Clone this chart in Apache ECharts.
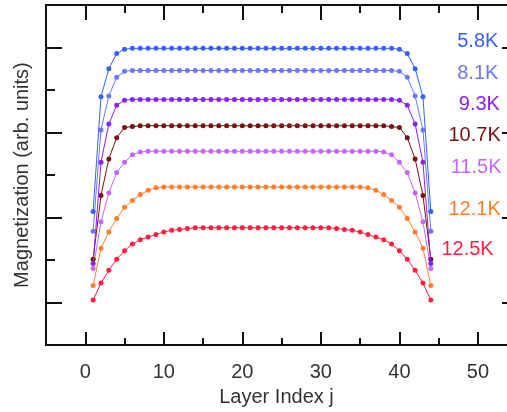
<!DOCTYPE html>
<html>
<head>
<meta charset="utf-8">
<script src="https://cdn.jsdelivr.net/npm/echarts@6/dist/echarts.min.js"></script>
<style>
  html, body { margin: 0; padding: 0; background: #fff; }
  #chart { width: 507px; height: 412px; }
</style>
</head>
<body>
<div id="chart"></div>
<script>
// Layer index j along the film
const layerIndex = [1, 2, 3, 4, 5, 6, 7, 8, 9, 10, 11, 12, 13, 14, 15, 16, 17, 18, 19, 20, 21, 22,
  23, 24, 25, 26, 27, 28, 29, 30, 31, 32, 33, 34, 35, 36, 37, 38, 39, 40, 41, 42, 43, 44];

const temperatures = ['5.8K', '8.1K', '9.3K', '10.7K', '11.5K', '12.1K', '12.5K'];

// Layer magnetization profiles (arb. units), one per temperature
const mag58 = [1.57, 2.92, 3.25, 3.43, 3.48,
  3.49, 3.49, 3.49, 3.49, 3.49, 3.49, 3.49, 3.49, 3.49, 3.49,
  3.49, 3.49, 3.49, 3.49, 3.49, 3.49, 3.49, 3.49, 3.49, 3.49,
  3.49, 3.49, 3.49, 3.49, 3.49, 3.49, 3.49, 3.49, 3.49, 3.49,
  3.49, 3.49, 3.49, 3.49,
  3.48, 3.43, 3.25, 2.92, 1.57];
const mag81 = [1.34, 2.53, 2.93, 3.15, 3.22,
  3.23, 3.23, 3.23, 3.23, 3.23, 3.23, 3.23, 3.23, 3.23, 3.23,
  3.23, 3.23, 3.23, 3.23, 3.23, 3.23, 3.23, 3.23, 3.23, 3.23,
  3.23, 3.23, 3.23, 3.23, 3.23, 3.23, 3.23, 3.23, 3.23, 3.23,
  3.23, 3.23, 3.23, 3.23,
  3.22, 3.15, 2.93, 2.53, 1.34];
const mag93 = [0.96, 2.15, 2.60, 2.82, 2.88,
  2.89, 2.89, 2.89, 2.89, 2.89, 2.89, 2.89, 2.89, 2.89, 2.89,
  2.89, 2.89, 2.89, 2.89, 2.89, 2.89, 2.89, 2.89, 2.89, 2.89,
  2.89, 2.89, 2.89, 2.89, 2.89, 2.89, 2.89, 2.89, 2.89, 2.89,
  2.89, 2.89, 2.89, 2.89,
  2.88, 2.82, 2.60, 2.15, 0.96];
const mag107 = [1.01, 1.76, 2.19, 2.44, 2.56, 2.57,
  2.58, 2.58, 2.58, 2.58, 2.58, 2.58, 2.58, 2.58, 2.58, 2.58,
  2.58, 2.58, 2.58, 2.58, 2.58, 2.58, 2.58, 2.58, 2.58, 2.58,
  2.58, 2.58, 2.58, 2.58, 2.58, 2.58, 2.58, 2.58, 2.58, 2.58,
  2.58, 2.58,
  2.57, 2.56, 2.44, 2.19, 1.76, 1.01];
const mag115 = [0.90, 1.45, 1.79, 2.03, 2.15, 2.24, 2.27,
  2.28, 2.28, 2.28, 2.28, 2.28, 2.28, 2.28, 2.28, 2.28, 2.28,
  2.28, 2.28, 2.28, 2.28, 2.28, 2.28, 2.28, 2.28, 2.28, 2.28,
  2.28, 2.28, 2.28, 2.28, 2.28, 2.28, 2.28, 2.28, 2.28, 2.28,
  2.27, 2.24, 2.15, 2.03, 1.79, 1.45, 0.90];
const mag121 = [0.70, 1.14, 1.33, 1.49, 1.62, 1.70, 1.77, 1.82, 1.85,
  1.86, 1.86, 1.86, 1.86, 1.86, 1.86, 1.86, 1.86, 1.86, 1.86,
  1.86, 1.86, 1.86, 1.86, 1.86, 1.86, 1.86, 1.86, 1.86, 1.86,
  1.86, 1.86, 1.86, 1.86, 1.86, 1.86,
  1.85, 1.82, 1.77, 1.70, 1.62, 1.49, 1.33, 1.14, 0.70];
const mag125 = [0.53, 0.73, 0.88, 1.01, 1.11, 1.19, 1.24, 1.27, 1.30, 1.33, 1.35, 1.36, 1.37,
  1.38, 1.38, 1.38, 1.38, 1.38, 1.38, 1.38, 1.38, 1.38, 1.38,
  1.38, 1.38, 1.38, 1.38, 1.38, 1.38, 1.38, 1.38,
  1.37, 1.36, 1.35, 1.33, 1.30, 1.27, 1.24, 1.19, 1.11, 1.01, 0.88, 0.73, 0.53];

const profiles = [mag58, mag81, mag93, mag107, mag115, mag121, mag125];

// Tick positions
const xMajorTicks = [0, 10, 20, 30, 40, 50];
const xMinorTicks = [5, 15, 25, 35, 45];
const yMajorTicks = [0.5, 1.5, 2.5, 3.5];
const yMinorTicks = [1, 2, 3];

const colors = ['#3560ff', '#6a78ff', '#8a22f2', '#7a1212', '#c666ff', '#ff7f2a', '#ff1f40'];
// Where each temperature tag ends, in data coordinates [j, M]
const tagAnchors = [[52.6, 3.57], [52.6, 3.19], [52.8, 2.83], [52.9, 2.47], [53.0, 2.09], [52.9, 1.59], [52.0, 1.12]];

const FONT = '"Liberation Sans", Arial, sans-serif';
const AXIS_COLOR = '#111';
const X_MIN = -5, X_MAX = 53.7;

function xAxisDef(position, ticks, len, opts) {
  return Object.assign({
    type: 'value', gridIndex: 0, position: position,
    min: X_MIN, max: X_MAX,
    axisLine: { show: true, onZero: false, lineStyle: { color: AXIS_COLOR, width: 2 } },
    axisTick: { show: true, inside: true, length: len, customValues: ticks, lineStyle: { color: AXIS_COLOR, width: 2 } },
    axisLabel: { show: false },
    splitLine: { show: false }
  }, opts || {});
}
function yAxisDef(position, ticks, len, opts) {
  return Object.assign({
    type: 'value', gridIndex: 0, position: position,
    min: 0, max: 4,
    axisLine: { show: true, onZero: false, lineStyle: { color: AXIS_COLOR, width: 2 } },
    axisTick: { show: true, inside: true, length: len, customValues: ticks, lineStyle: { color: AXIS_COLOR, width: 2 } },
    axisLabel: { show: false },
    splitLine: { show: false }
  }, opts || {});
}

const series = profiles.map((vals, i) => ({
  name: temperatures[i],
  type: 'line',
  xAxisIndex: 0,
  yAxisIndex: 0,
  data: layerIndex.map((j, k) => [j, vals[k]]),
  symbol: 'circle',
  symbolSize: 5,
  showSymbol: true,
  color: colors[i],
  lineStyle: { width: 1, color: colors[i] },
  itemStyle: { color: colors[i] },
  z: 10 - i,
  markPoint: {
    symbol: 'circle',
    symbolSize: 0,
    silent: true,
    data: [{ coord: tagAnchors[i] }],
    label: {
      show: true,
      position: 'left',
      distance: 0,
      formatter: temperatures[i],
      color: colors[i],
      fontSize: 20,
      fontFamily: FONT
    }
  }
}));

const chart = echarts.init(document.getElementById('chart'), null, { renderer: 'canvas' });
chart.setOption({
  animation: false,
  backgroundColor: '#fff',
  grid: { left: 46, right: 0, top: 5, bottom: 66, containLabel: false },
  xAxis: [
    xAxisDef('bottom', xMajorTicks, 13, {
      axisLabel: { show: true, customValues: xMajorTicks, fontSize: 20, color: '#333', fontFamily: FONT, margin: 17 },
      name: 'Layer Index j', nameLocation: 'middle', nameGap: 34,
      nameTextStyle: { fontSize: 20, color: '#333', fontFamily: FONT }
    }),
    xAxisDef('bottom', xMinorTicks, 7),
    xAxisDef('top', xMajorTicks, 15),
    xAxisDef('top', xMinorTicks, 8)
  ],
  yAxis: [
    yAxisDef('left', yMajorTicks, 16, {
      name: 'Magnetization (arb. units)', nameLocation: 'middle', nameGap: 14,
      nameTextStyle: { fontSize: 20, color: '#333', fontFamily: FONT }
    }),
    yAxisDef('left', yMinorTicks, 9),
    // right frame lies just past the canvas edge: only the tick stubs show
    yAxisDef('right', yMajorTicks, 5, { axisLine: { show: false, onZero: false } })
  ],
  series: series
});
</script>
</body>
</html>
